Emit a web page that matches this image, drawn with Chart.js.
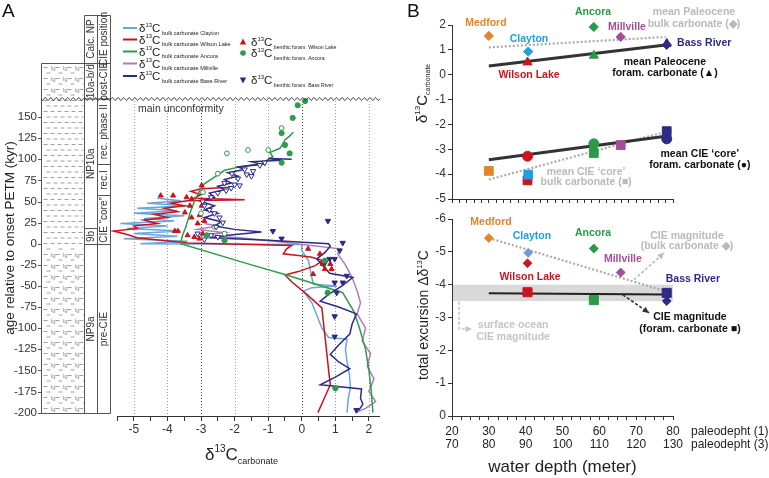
<!DOCTYPE html>
<html>
<head>
<meta charset="utf-8">
<script src="https://cdn.jsdelivr.net/npm/chart.js@4.4.0/dist/chart.umd.min.js"></script>
<style>
  body { margin: 0; background: #fff; width: 769px; height: 478px; position: relative; overflow: hidden; }
  canvas { position: absolute; }
  #cA { left: 0; top: 0; }
  #cB1 { left: 380px; top: 0; }
  #cB2 { left: 380px; top: 210px; }
</style>
</head>
<body>
<canvas id="cB1" width="389" height="210"></canvas>
<canvas id="cB2" width="389" height="268"></canvas>
<canvas id="cA" width="385" height="478"></canvas>
<script>
const FF = '"Liberation Sans", Arial, Helvetica, sans-serif';

// ---------- panel A : age (kyr) vs d13C ----------
const clayAge = [-200,-185,-170,-155,-140,-125,-113,-111,-100,-85,-70,-56,-52,-50,-48,-40,-30,-20,-8,-1,0,3,6,9,12,15,18,21,24,27,30,33,36,39,42,45,48,51,54];
const clayD   = [1.35,1.38,1.45,1.42,1.35,1.3,1.35,0.8,0.6,0.45,0.3,0.05,0.3,1.05,0.35,0.3,0.25,0.2,0.0,0.0,-4.8,-3.4,-5.3,-3.7,-5.0,-3.6,-5.2,-4.0,-5.4,-3.8,-4.7,-3.5,-5.0,-3.7,-4.9,-3.4,-4.6,-3.6,-4.3];

const wlAge = [-200,-185,-167,-150,-120,-95,-76,-60,-45,-37,-33,-26,-20,-16,-14,-12,-6,-2,1,4,7,11,15,18,21,24,28,31,35,38,42,45,48,51,52,54,58,62,65,67];
const wlD   = [0.48,0.65,0.85,0.8,0.72,0.65,0.6,0.15,-0.3,-0.5,-0.1,0.4,0.62,0.3,-0.1,-0.55,-0.45,-0.3,-3.4,-4.2,-4.9,-5.2,-5.6,-4.9,-5.0,-4.3,-4.7,-4.0,-4.4,-3.7,-4.1,-3.5,-3.9,-3.4,-1.7,-3.2,-3.0,-3.3,-3.0,-2.1];

const ancAge = [-200,-175,-150,-125,-100,-80,-58,-37,-25,0,5,10,20,36,50,62,71,79,87,91,95,103,108,113,118,123,128,132];
const ancD   = [2.12,2.07,2.0,1.9,1.72,1.55,1.22,-0.45,-1.5,-3.6,-3.58,-3.55,-3.45,-3.33,-3.2,-3.05,-2.9,-2.6,-2.3,-1.85,-1.2,-0.86,-0.95,-0.65,-0.57,-0.5,-0.35,-0.25];

const mvAge = [-200,-195,-187,-175,-160,-145,-130,-115,-100,-83,-70,-56,-40,-25,-12,-6,2,7,10,13,17,21,24];
const mvD   = [1.6,1.9,2.2,2.0,2.15,1.95,2.05,1.8,1.9,1.65,1.75,1.65,1.5,1.3,1.07,1.13,-0.6,-1.85,-3.0,-2.3,-3.1,-2.5,-2.9];

const brAge = [-197,-190,-183,-172,-167,-158,-148,-140,-131,-120,-107,-95,-83,-75,-68,-60,-50,-40,-35,-25,-18,-10,-3,0,4,7,10,14,17,21,26,31,36,40,45,50,55,60,64,68,72,76,80,84,88,91,94,97,99,101,100];
const brD   = [1.7,1.82,1.75,1.78,0.55,1.0,1.43,1.1,0.85,1.1,1.43,1.5,1.63,1.1,0.55,0.8,1.2,1.52,0.83,0.6,0.45,0.7,0.85,0.8,-1.0,-2.65,-2.2,-1.2,-2.0,-2.6,-2.4,-2.9,-2.5,-2.9,-2.6,-3.0,-2.6,-2.75,-2.3,-2.5,-2.1,-2.3,-1.9,-2.2,-1.7,-1.9,-1.2,-1.5,-0.6,-1.0,-0.3];

// benthic foraminifera
const wlfD   = [-4.2,-3.83,-3.28,-2.98,-3.43,-3.33,-2.98,-3.48,-3.04,-3.28,-3.1,-2.9,-3.78,-3.69,-3.4,-3.2,-3.05,-2.95,0.19,0.54,0.69,0.89,0.34,0.62,0.85];
const wlfAge = [57,57,53,69,55,45,45,37,34,31,24,27,15,15,10,8,6,12,-6,-12,-30,-30,-36,-24,-24];
const ancFillD   = [0.1,-0.12,-0.27,-0.6,-0.5,-0.36,-0.6,-2.83,-2.3,0.69,0.77,1.0];
const ancFillAge = [169,164,149,131,117,107,96,10,4,-20,-58,-171];
const ancOpenD   = [-0.6,-1.0,-1.6,-2.23,-2.5,-2.94,-3.0,-2.3,-2.6];
const ancOpenAge = [137,111,111,107,83,61,36,12,20];
const brOpenD   = [-2.9,-2.75,-2.6,-2.45,-2.95,-2.7,-2.5,-2.25,-2.1,-2.3,-2.0,-1.85,-2.08,-1.64,-1.45,-1.25,-1.9,-1.7,-1.5,-1.1,-2.55,-2.35,-2.7,-3.1,-2.5,-2.9];
const brOpenAge = [45,40,36,31,50,55,60,63,66,72,70,69,83,82,86,93,77,88,80,96,20,25,10,12,8,5];
const brFillD   = [-0.86,0.78,-0.6,1.22,1.13,0.83,0.98,1.34,0.98,1.22,1.04,0.98,0.98,1.01,1.63,0.7];
const brFillAge = [15,27,6,1,-8,-18,-18,-38,-46,-46,-58,-86,-110,-171,-197,-22];

const xTicksA = [-5.5,-5,-4.5,-4,-3.5,-3,-2.5,-2,-1.5,-1,-0.5,0,0.5,1,1.5,2];
const yTicksA = [-200,-175,-150,-125,-100,-75,-50,-25,0,25,50,75,100,125,150];
const gridA = [-5,-4,-3,-2,-1,0,1,2];

// zonation (ages of lower boundaries, kyr)
const npZones  = [['10a-b/d', null], ['NP10a', 19], ['9b', 0], ['NP9a', -200]];
const cieZones = [['post-CIE', null], ['rec. phase II', 94], ['rec.I', 58], ['CIE \u201Ccore\u201D', 0], ['pre-CIE', -200]];

const colClay = '#6aa6da', colWL = '#c8141e', colAnc = '#2e9c4a', colMv = '#b27ab6', colBR = '#2d2a85';

// ---------- panel B ----------
const sites     = ['Medford', 'Wilson Lake', 'Clayton', 'Ancora', 'Millville', 'Bass River'];
const siteDepth = [30, 40.5, 40.7, 58.5, 65.8, 78.3];
const siteCol   = ['#e0862a', '#cc1420', '#1ea0e0', '#2a9a48', '#a44d9a', '#2d2b84'];
const siteCol2  = ['#e0862a', '#cc1420', '#6e9bd6', '#2a9a48', '#a44d9a', '#2d2b84'];
const bulkPaleo  = [1.56, null, 0.93, 1.92, 1.52, 1.2];
const foramPaleo = [null, 0.5, null, 0.77, null, 1.25];
const bulkCore   = [-3.87, -4.25, -4.02, -3.15, -2.83, -2.27];
const foramCore  = [null, -3.28, null, -2.78, null, -2.58];
const bulkCIE    = [-5.42, -4.65, -4.97, -5.1, -4.37, -3.5];
const foramCIE   = [null, -3.77, null, -3.53, null, -3.75];

const fitDepth      = [30, 78];
const fitBulkPaleo  = [1.1, 1.52];
const fitForamPaleo = [0.35, 1.2];
const fitBulkCore   = [-4.22, -2.3];
const fitForamCore  = [-3.42, -2.48];
const fitBulkCIE    = [-5.42, -3.8];
const fitForamCIE   = [-3.74, -3.7];
const surfaceBand   = [-4, -3.5];

const pts = (xs, ys) => xs.map((x, i) => ({ x: x, y: ys[i] }));

// keep chart areas where they are: drop the label overhang paddings
const fixW = w => s => { s.width = w; s.paddingTop = 0; s.paddingBottom = 0; };
const fixH = h => s => { s.height = h; s.paddingLeft = 0; s.paddingRight = 0; };

function rich(ctx, x, y, parts, rot, align) {
  ctx.save();
  ctx.translate(x, y);
  if (rot) ctx.rotate(rot);
  ctx.textBaseline = 'alphabetic';
  ctx.textAlign = 'left';
  let w = 0;
  parts.forEach(p => { ctx.font = p.f; w += ctx.measureText(p.t).width; });
  let cx = align === 'center' ? -w / 2 : 0;
  parts.forEach(p => {
    ctx.font = p.f;
    ctx.fillStyle = p.c || '#222';
    ctx.fillText(p.t, cx, p.dy || 0);
    cx += ctx.measureText(p.t).width;
  });
  ctx.restore();
}

function delta(sub, big, sup, subSize) {
  return [
    { t: '\u03B4', f: big + 'px ' + FF },
    { t: '13', f: sup + 'px ' + FF, dy: -big * 0.45 },
    { t: 'C', f: big + 'px ' + FF },
    { t: ' ' + sub, f: subSize + 'px ' + FF, dy: big * 0.25 }
  ];
}

function vtext(ctx, t, x, y, font, color) {
  ctx.save();
  ctx.translate(x, y);
  ctx.rotate(-Math.PI / 2);
  ctx.font = font;
  ctx.fillStyle = color || '#333';
  ctx.textAlign = 'center';
  ctx.textBaseline = 'middle';
  ctx.fillText(t, 0, 0);
  ctx.restore();
}

function hline(ctx, x0, x1, y) { ctx.beginPath(); ctx.moveTo(x0, y); ctx.lineTo(x1, y); ctx.stroke(); }
function vline(ctx, x, y0, y1) { ctx.beginPath(); ctx.moveTo(x, y0); ctx.lineTo(x, y1); ctx.stroke(); }

const panelA = {
  id: 'panelA',
  beforeDatasetsDraw(chart) {
    const { ctx, chartArea: a, scales: { x } } = chart;
    ctx.save();
    ctx.lineWidth = 1;
    ctx.setLineDash([1, 2]);
    gridA.forEach(v => {
      ctx.strokeStyle = (v === 0 || v === -3) ? '#444' : '#999';
      const px = Math.round(x.getPixelForValue(v)) + 0.5;
      vline(ctx, px, a.top + 2, a.bottom);
    });
    ctx.restore();
  },
  afterDraw(chart) {
    const { ctx, chartArea: a, scales: { x, y } } = chart;
    const yu = a.top, yb = Math.round(y.getPixelForValue(-200)) + 0.5;
    const c0 = 41.5, c1 = 84.5, c2 = 97.5, c3 = 110.5, hTop = 15.5, lTop = 63.5;

    ctx.save();
    // lithology pattern
    ctx.save();
    ctx.beginPath(); ctx.rect(c0 + 1, lTop + 1, c1 - c0 - 2, yb - lTop - 2); ctx.clip();
    ctx.strokeStyle = '#888'; ctx.lineWidth = 0.8;
    const y0 = y.getPixelForValue(0);
    let r = 0;
    for (let yy = lTop + 4; yy < yb; yy += 5.5, r++) {
      const glauc = yy > y0 || yy < yu;
      ctx.beginPath();
      for (let xx = c0 + 2 + (r % 2) * 3; xx < c1; xx += glauc ? 12 : 7) {
        ctx.moveTo(xx, yy); ctx.lineTo(xx + 4, yy);
      }
      ctx.stroke();
      if (glauc && r % 2 === 0) {
        ctx.font = '6px ' + FF; ctx.fillStyle = '#888';
        [51, 63, 75].forEach(gx => ctx.fillText('lg', gx, yy + 2.5));
      }
    }
    ctx.restore();

    // column frames
    ctx.strokeStyle = '#555'; ctx.lineWidth = 1;
    vline(ctx, c0, lTop, yb);
    vline(ctx, c1, hTop, yb);
    vline(ctx, c2, hTop, yb);
    vline(ctx, c3, hTop, yb);
    hline(ctx, c1, c3, hTop);
    hline(ctx, c0, c3, lTop);
    hline(ctx, c0, c3, yb);

    const zoneCol = (zones, xa, xb) => {
      let prev = lTop;
      zones.forEach((z, i) => {
        const bottom = z[1] === null ? yu : Math.round(y.getPixelForValue(z[1])) + 0.5;
        if (i < zones.length - 1) { ctx.strokeStyle = '#555'; hline(ctx, xa, xb, bottom); }
        vtext(ctx, z[0], (xa + xb) / 2 + 0.5, (prev + bottom) / 2, '10px ' + FF, '#333');
        prev = bottom;
      });
    };
    zoneCol(npZones, c1, c2);
    zoneCol(cieZones, c2, c3);
    vtext(ctx, 'Calc. NP', (c1 + c2) / 2 + 0.5, 39, '10px ' + FF, '#333');
    vtext(ctx, 'CIE position', (c2 + c3) / 2 + 0.5, 39, '10px ' + FF, '#333');

    // y tick marks
    ctx.strokeStyle = '#555';
    yTicksA.forEach(v => hline(ctx, 38, c0, Math.round(y.getPixelForValue(v)) + 0.5));

    // unconformity
    ctx.strokeStyle = '#333'; ctx.lineWidth = 1; ctx.setLineDash([]);
    ctx.beginPath();
    for (let xx = 41; xx <= 380; xx += 0.5) {
      const yy = yu + 1.4 * Math.sin((xx - 41) / 5.6 * 2 * Math.PI);
      if (xx === 41) ctx.moveTo(xx, yy); else ctx.lineTo(xx, yy);
    }
    ctx.stroke();
    ctx.font = '10.5px ' + FF; ctx.fillStyle = '#333'; ctx.textBaseline = 'alphabetic'; ctx.textAlign = 'left';
    ctx.fillText('main unconformity', 138, 112);

    // x axis line
    ctx.strokeStyle = '#333';
    hline(ctx, x.getPixelForValue(-5.5), a.right, Math.round(a.bottom) + 0.5);

    // panel letter and titles
    ctx.font = '19px ' + FF; ctx.fillStyle = '#111';
    ctx.fillText('A', 2, 17);
    vtext(ctx, 'age relative to onset PETM (kyr)', 10, 238, '13.5px ' + FF, '#222');
    rich(ctx, 205, 460, delta('', 17, 10, 9).slice(0, 3).concat([{ t: 'carbonate', f: '9px ' + FF, dy: 4 }]));

    // legend
    const leftLeg = [['bulk carbonate Clayton', colClay], ['bulk carbonate Wilson Lake', colWL], ['bulk carbonate Ancora', colAnc], ['bulk carbonate Millville', colMv], ['bulk carbonate Bass River', colBR]];
    const rows = [28, 39.5, 51.5, 63.5, 76];
    leftLeg.forEach((l, i) => {
      ctx.strokeStyle = l[1]; ctx.lineWidth = 2;
      hline(ctx, 123, 137, rows[i]);
      rich(ctx, 139, rows[i] + 4, delta(l[0], 11.5, 6, 5.6));
    });
    const rightLeg = [['benthic foram. Wilson Lake', colWL, 'tri', 42], ['benthic foram. Ancora', colAnc, 'circ', 53], ['benthic foram. Bass River', colBR, 'tridown', 80]];
    rightLeg.forEach(l => {
      const mx = 243, my = l[3];
      ctx.fillStyle = l[1];
      ctx.beginPath();
      if (l[2] === 'circ') ctx.arc(mx, my, 2.8, 0, Math.PI * 2);
      else if (l[2] === 'tri') { ctx.moveTo(mx, my - 3.5); ctx.lineTo(mx + 3.2, my + 2.5); ctx.lineTo(mx - 3.2, my + 2.5); }
      else { ctx.moveTo(mx, my + 3.5); ctx.lineTo(mx + 3.2, my - 2.5); ctx.lineTo(mx - 3.2, my - 2.5); }
      ctx.fill();
      rich(ctx, 251, my + 4, delta(l[0], 11.5, 6, 5.2));
    });
    ctx.restore();
  }
};

const lineDs = (ages, vals, color, order) => ({
  data: pts(vals, ages), showLine: true, borderColor: color, borderWidth: 1.5,
  pointRadius: 0, order: order, tension: 0
});
const markDs = (xs, ys, style, color, fill, rad, rot, order) => ({
  data: pts(xs, ys), showLine: false, pointStyle: style, pointRotation: rot || 0,
  pointRadius: rad, pointBackgroundColor: fill, pointBorderColor: color, pointBorderWidth: 1,
  order: order, clip: false
});

new Chart(document.getElementById('cA'), {
  type: 'scatter',
  data: {
    datasets: [
      markDs(ancOpenD, ancOpenAge, 'circle', colAnc, '#fff', 2.4, 0, 1),
      markDs(ancFillD, ancFillAge, 'circle', colAnc, colAnc, 2.6, 0, 0),
      markDs(wlfD, wlfAge, 'triangle', colWL, colWL, 2.9, 0, 1),
      markDs(brOpenD, brOpenAge, 'triangle', colBR, '#fff', 3.1, 180, 0),
      markDs(brFillD, brFillAge, 'triangle', colBR, colBR, 3.1, 180, 0),
      lineDs(brAge, brD, colBR, 5),
      lineDs(mvAge, mvD, colMv, 7),
      lineDs(ancAge, ancD, colAnc, 6),
      lineDs(wlAge, wlD, colWL, 8),
      lineDs(clayAge, clayD, colClay, 9)
    ]
  },
  options: {
    responsive: false, animation: false, events: [],
    layout: { padding: { top: 99, right: 5, left: 0, bottom: 0 } },
    plugins: { legend: { display: false }, tooltip: { enabled: false } },
    scales: {
      x: {
        type: 'linear', min: -5.71, max: 2.33,
        afterBuildTicks: s => { s.ticks = xTicksA.map(v => ({ value: v })); },
        ticks: { callback: v => Number.isInteger(v) ? String(v) : '', font: { size: 12, family: FF }, color: '#333', padding: 1, maxRotation: 0, autoSkip: false },
        grid: { drawOnChartArea: false, tickLength: 5, color: '#333' },
        border: { display: false },
        afterFit: fixH(62)
      },
      y: {
        type: 'linear', min: -204, max: 171.4,
        afterBuildTicks: s => { s.ticks = yTicksA.map(v => ({ value: v })); },
        ticks: { font: { size: 11.5, family: FF }, color: '#333', padding: 73, autoSkip: false },
        grid: { display: false, drawTicks: false },
        border: { display: false },
        afterFit: fixW(110)
      }
    }
  },
  plugins: [panelA]
});

// ---------- panel B helpers ----------
function notes(chart, list) {
  const { ctx, scales: { x, y } } = chart;
  ctx.save();
  ctx.textBaseline = 'middle';
  list.forEach(n => {
    ctx.font = (n[4] || 'bold 10.5px ') + FF;
    ctx.fillStyle = n[3];
    ctx.textAlign = n[5] || 'center';
    ctx.fillText(n[0], x.getPixelForValue(n[1]), y.getPixelForValue(n[2]));
  });
  ctx.restore();
}

function arrow(ctx, p, color, dash) {
  ctx.save();
  ctx.strokeStyle = color; ctx.fillStyle = color; ctx.lineWidth = 1.6; ctx.setLineDash(dash);
  ctx.beginPath();
  p.forEach((q, i) => i ? ctx.lineTo(q[0], q[1]) : ctx.moveTo(q[0], q[1]));
  ctx.stroke();
  const a = p[p.length - 2], b = p[p.length - 1];
  const ang = Math.atan2(b[1] - a[1], b[0] - a[0]);
  ctx.setLineDash([]);
  ctx.beginPath();
  ctx.moveTo(b[0], b[1]);
  ctx.lineTo(b[0] - 7 * Math.cos(ang - 0.45), b[1] - 7 * Math.sin(ang - 0.45));
  ctx.lineTo(b[0] - 7 * Math.cos(ang + 0.45), b[1] - 7 * Math.sin(ang + 0.45));
  ctx.closePath(); ctx.fill();
  ctx.restore();
}

const fitDs = (ys, color, width, dash, order) => ({
  data: pts(fitDepth, ys), showLine: true, borderColor: color, borderWidth: width,
  borderDash: dash, pointRadius: 0, order: order
});
const siteDs = (ys, style, rad, cols, order) => ({
  data: pts(siteDepth, ys), showLine: false, pointStyle: style, pointRadius: rad,
  pointBackgroundColor: cols, pointBorderColor: cols, pointBorderWidth: 1, order: order, clip: false
});

const gray = '#b9b9b9';
const axisFont = { size: 12, family: FF };

const panelB1 = {
  id: 'panelB1',
  afterDraw(chart) {
    const ctx = chart.ctx;
    ctx.save();
    ctx.font = '19px ' + FF; ctx.fillStyle = '#111'; ctx.textAlign = 'left'; ctx.textBaseline = 'alphabetic';
    ctx.fillText('B', 27, 17);
    rich(ctx, 47, 123, delta('', 15, 8, 7).slice(0, 3).concat([{ t: 'carbonate', f: '7px ' + FF, dy: 3 }]), -Math.PI / 2);
    ctx.restore();
    notes(chart, [
      ['Medford', 29.2, 2.06, siteCol[0]],
      ['Ancora', 58.3, 2.5, siteCol[3]],
      ['mean Paleocene', 85.7, 2.5, gray],
      ['bulk carbonate (\u25C6)', 85.7, 2.02, gray],
      ['Clayton', 40.9, 1.45, siteCol[2]],
      ['Millville', 67.5, 1.9, siteCol[4]],
      ['Bass River', 81.1, 1.29, siteCol[5], null, 'left'],
      ['Wilson Lake', 40.9, 0.0, siteCol[1]],
      ['mean Paleocene', 77.8, 0.52, '#111'],
      ['foram. carbonate (\u25B2)', 77.8, 0.08, '#111'],
      ['mean CIE \u2018core\u2019', 87.3, -3.19, '#111'],
      ['foram. carbonate (\u25CF)', 87.3, -3.63, '#111'],
      ['mean CIE \u2018core\u2019', 56.4, -3.91, gray],
      ['bulk carbonate (\u25A0)', 56.4, -4.31, gray]
    ]);
  }
};

new Chart(document.getElementById('cB1'), {
  type: 'scatter',
  data: {
    datasets: [
      siteDs(foramPaleo, 'triangle', 5.2, siteCol, 0),
      siteDs(bulkPaleo, 'rectRot', 4.6, siteCol, 1),
      siteDs(foramCore, 'circle', 5, siteCol, 1),
      siteDs(bulkCore, 'rect', 6.2, siteCol, 2),
      fitDs(fitForamPaleo, '#333', 3, [], 5),
      fitDs(fitBulkPaleo, '#aaa', 2.2, [2, 2], 6),
      fitDs(fitForamCore, '#333', 3, [], 5),
      fitDs(fitBulkCore, '#aaa', 2.2, [2, 2], 6)
    ]
  },
  options: {
    responsive: false, animation: false, events: [],
    layout: { padding: { top: 25, right: 96, left: 0, bottom: 0 } },
    plugins: { legend: { display: false }, tooltip: { enabled: false } },
    scales: {
      x: {
        type: 'linear', min: 20, max: 80,
        ticks: { stepSize: 2, callback: () => '', autoSkip: false },
        grid: { drawOnChartArea: false, tickLength: 4, color: '#333' },
        border: { color: '#333' },
        afterFit: fixH(11)
      },
      y: {
        type: 'linear', min: -5, max: 2,
        ticks: { stepSize: 1, font: axisFont, color: '#333', padding: 2 },
        grid: { drawOnChartArea: false, tickLength: 4, color: '#333' },
        border: { color: '#333' },
        afterFit: fixW(72)
      }
    }
  },
  plugins: [panelB1]
});

const panelB2 = {
  id: 'panelB2',
  beforeDatasetsDraw(chart) {
    const { ctx, chartArea: a, scales: { y } } = chart;
    const t = y.getPixelForValue(surfaceBand[0]), b = y.getPixelForValue(surfaceBand[1]);
    ctx.save();
    ctx.fillStyle = '#d9d9d9';
    ctx.fillRect(a.left + 1, t, a.right - a.left - 1, b - t);
    ctx.restore();
  },
  afterDraw(chart) {
    const { ctx, scales: { x, y } } = chart;
    const P = (dx, dy) => [x.getPixelForValue(dx), y.getPixelForValue(dy)];
    arrow(ctx, [P(69.4, -4.15), P(77.6, -4.97)], '#bbb', [3, 2]);
    arrow(ctx, [P(66.4, -3.69), P(73.5, -3.14)], '#333', [3, 2]);
    arrow(ctx, [P(21.9, -3.48), P(21.9, -2.65), P(25.4, -2.65)], '#c4c4c4', [3, 2]);
    notes(chart, [
      ['Medford', 30.6, -5.91, siteCol[0]],
      ['Clayton', 41.7, -5.48, siteCol[2]],
      ['Ancora', 58.3, -5.57, siteCol[3]],
      ['CIE magnitude', 83.8, -5.48, gray],
      ['(bulk carbonate \u25C6)', 83.8, -5.18, gray],
      ['Millville', 66.4, -4.78, siteCol[4]],
      ['Wilson Lake', 41.2, -4.23, siteCol[1]],
      ['Bass River', 85.4, -4.17, siteCol[5]],
      ['CIE magnitude', 84.6, -3.02, '#111'],
      ['(foram. carbonate \u25A0)', 84.6, -2.65, '#111'],
      ['surface ocean', 36.6, -2.77, '#c4c4c4'],
      ['CIE magnitude', 36.6, -2.41, '#c4c4c4']
    ]);
    ctx.save();
    ctx.font = '12px ' + FF; ctx.fillStyle = '#222'; ctx.textAlign = 'left'; ctx.textBaseline = 'middle';
    ctx.fillText('paleodepht (1)', 311, 222);
    ctx.fillText('paleodepht (3)', 311, 235);
    rich(ctx, 48, 170, [
      { t: 'total excursion \u0394\u03B4', f: '14px ' + FF },
      { t: '13', f: '7.5px ' + FF, dy: -6 },
      { t: 'C', f: '14px ' + FF }
    ], -Math.PI / 2);
    ctx.restore();
  }
};

new Chart(document.getElementById('cB2'), {
  type: 'scatter',
  data: {
    datasets: [
      siteDs(foramCIE, 'rect', 6.4, siteCol2, 0),
      siteDs(bulkCIE, 'rectRot', 4.4, siteCol2, 1),
      fitDs(fitForamCIE, '#222', 2, [], 4),
      fitDs(fitBulkCIE, '#aaa', 2.2, [2, 2], 5)
    ]
  },
  options: {
    responsive: false, animation: false, events: [],
    layout: { padding: { top: 9, right: 96, left: 0, bottom: 0 } },
    plugins: { legend: { display: false }, tooltip: { enabled: false } },
    scales: {
      x: {
        type: 'linear', min: 20, max: 80,
        ticks: {
          stepSize: 2.5, autoSkip: false, maxRotation: 0, padding: 5,
          font: { size: 12, family: FF, lineHeight: 1.1 }, color: '#222',
          callback: v => (v % 10 === 0) ? [String(v), String(v + 50)] : ''
        },
        grid: { drawOnChartArea: false, tickLength: 4, color: '#333' },
        border: { color: '#333' },
        title: { display: true, text: 'water depth (meter)', font: { size: 17, family: FF }, color: '#222', padding: { top: 0, bottom: 0 } },
        afterFit: fixH(62)
      },
      y: {
        type: 'linear', min: -6, max: 0, reverse: true,
        ticks: { stepSize: 1, font: axisFont, color: '#333', padding: 2 },
        grid: { drawOnChartArea: false, tickLength: 4, color: '#333' },
        border: { color: '#333' },
        afterFit: fixW(72)
      }
    }
  },
  plugins: [panelB2]
});
</script>
</body>
</html>
